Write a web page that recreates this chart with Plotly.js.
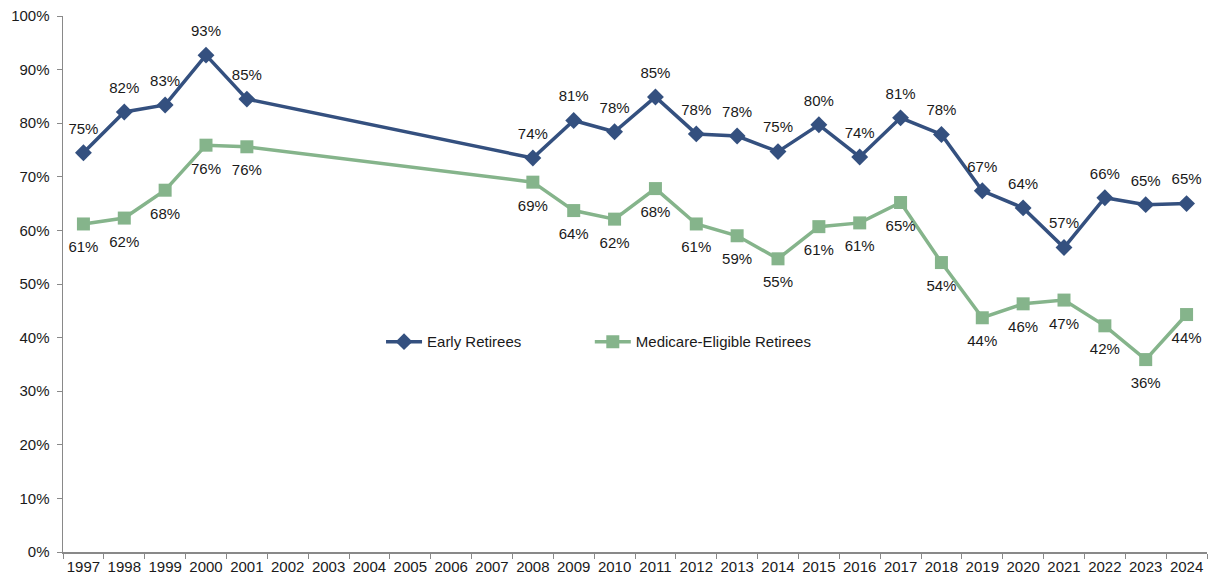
<!DOCTYPE html>
<html>
<head>
<meta charset="utf-8">
<script src="https://cdn.plot.ly/plotly-3.0.1.min.js"></script>
<style>html,body{margin:0;padding:0;background:#fff;}#chart{width:1210px;height:582px;}</style>
</head>
<body>
<div id="chart"></div>
<script>
const years = ['1997','1998','1999','2000','2001','2002','2003','2004','2005','2006','2007','2008','2009','2010','2011','2012','2013','2014','2015','2016','2017','2018','2019','2020','2021','2022','2023','2024'];
const earlyRetirees = [0.745,0.821,0.834,0.927,0.845,null,null,null,null,null,null,0.735,0.805,0.784,0.849,0.780,0.776,0.747,0.797,0.737,0.810,0.779,0.674,0.642,0.568,0.661,0.648,0.650];
const medicareRetirees = [0.612,0.623,0.675,0.759,0.756,null,null,null,null,null,null,0.690,0.637,0.621,0.678,0.612,0.590,0.547,0.607,0.614,0.652,0.540,0.437,0.463,0.470,0.422,0.359,0.443];
const seriesNames = ['Early Retirees','Medicare-Eligible Retirees'];

const fontFam = 'Liberation Sans, Arial, sans-serif';
const labelFont = {family: fontFam, size: 15, color: '#1a1a1a'};

function labels(arr){ return arr.map(v => v === null ? '' : Math.round(v*100) + '%'); }

const traces = [
  {
    x: years, y: earlyRetirees, name: seriesNames[0], type: 'scatter', mode: 'lines+markers',
    connectgaps: true, legend: 'legend',
    line: {color: '#34507f', width: 3.5},
    marker: {symbol: 'diamond', size: 13, color: '#34507f'},
    cliponaxis: false, hoverinfo: 'x+y'
  },
  {
    x: years, y: medicareRetirees, name: seriesNames[1], type: 'scatter', mode: 'lines+markers',
    connectgaps: true, legend: 'legend2',
    line: {color: '#85b48b', width: 3.5},
    marker: {symbol: 'square', size: 13, color: '#85b48b'},
    cliponaxis: false, hoverinfo: 'x+y'
  },
  {
    x: years, y: earlyRetirees, type: 'scatter', mode: 'markers+text', showlegend: false,
    marker: {size: 23, color: 'rgba(0,0,0,0)'},
    text: labels(earlyRetirees), textposition: 'top center', textfont: labelFont,
    cliponaxis: false, hoverinfo: 'skip'
  },
  {
    x: years, y: medicareRetirees, type: 'scatter', mode: 'markers+text', showlegend: false,
    marker: {size: 26, color: 'rgba(0,0,0,0)'},
    text: labels(medicareRetirees), textposition: 'bottom center', textfont: labelFont,
    cliponaxis: false, hoverinfo: 'skip'
  }
];

const legendCommon = {
  orientation: 'h', y: 0.392, xanchor: 'left', yanchor: 'middle',
  font: {family: fontFam, size: 15, color: '#1a1a1a'},
  itemwidth: 36, bgcolor: 'rgba(0,0,0,0)'
};

const layout = {
  width: 1210, height: 582,
  margin: {l: 63, r: 3, t: 16, b: 30},
  paper_bgcolor: '#fff', plot_bgcolor: '#fff',
  font: {family: fontFam, size: 15, color: '#1a1a1a'},
  showlegend: true,
  legend: Object.assign({x: 0.278}, legendCommon),
  legend2: Object.assign({x: 0.4605}, legendCommon),
  xaxis: {
    type: 'category', categoryorder: 'array', categoryarray: years,
    range: [-0.5, years.length - 0.5],
    showline: true, linecolor: '#898989', linewidth: 1.5,
    ticks: 'outside', tickson: 'boundaries', ticklen: 5, tickcolor: '#898989', tickwidth: 1,
    tickangle: 0,
    showgrid: false, zeroline: false,
    tickfont: {family: fontFam, size: 15, color: '#1a1a1a'}
  },
  yaxis: {
    range: [0, 1], dtick: 0.1, tickformat: '.0%',
    showline: true, linecolor: '#898989', linewidth: 1.5,
    ticks: 'outside', ticklen: 5, tickcolor: '#898989', tickwidth: 1,
    ticklabelstandoff: 4,
    showgrid: false, zeroline: false,
    tickfont: {family: fontFam, size: 15, color: '#1a1a1a'}
  }
};

Plotly.newPlot('chart', traces, layout, {displayModeBar: false, staticPlot: true});
</script>
</body>
</html>
